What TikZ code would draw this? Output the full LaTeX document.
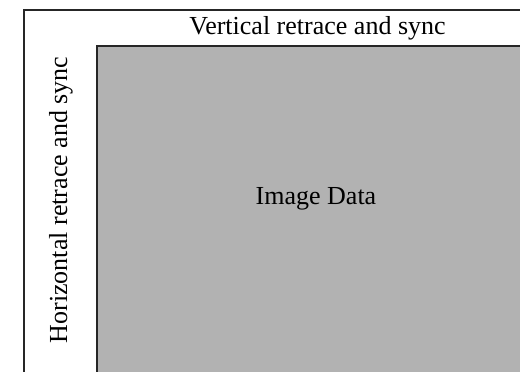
\documentclass[tikz,border=0pt]{standalone}
\usepackage{fontspec}
\setmainfont{Liberation Serif}
\usetikzlibrary{positioning}
\tikzset{frame/.style={draw=black!85,line width=1.2pt},
label text/.style={font=\fontsize{26}{31}\selectfont,inner sep=0pt}
}

\begin{document}
\begin{tikzpicture}[x=1pt,y=-1pt]
            \useasboundingbox (0,0) rectangle (520,372);
            \clip (0,0) rectangle (520,372);
            \draw[frame,fill=white] (24,10) rectangle (560,420);
            \draw[frame,fill=black!30] (97,46) rectangle (560,420);
            \node[label text] (vsync) at (317.5,28) {Vertical retrace and sync};
            \node[label text,rotate=90] (hsync) at (61,200) {Horizontal retrace and sync};
            \node[label text] (img) at (316,199) {Image Data};
        \end{tikzpicture}
\end{document}
